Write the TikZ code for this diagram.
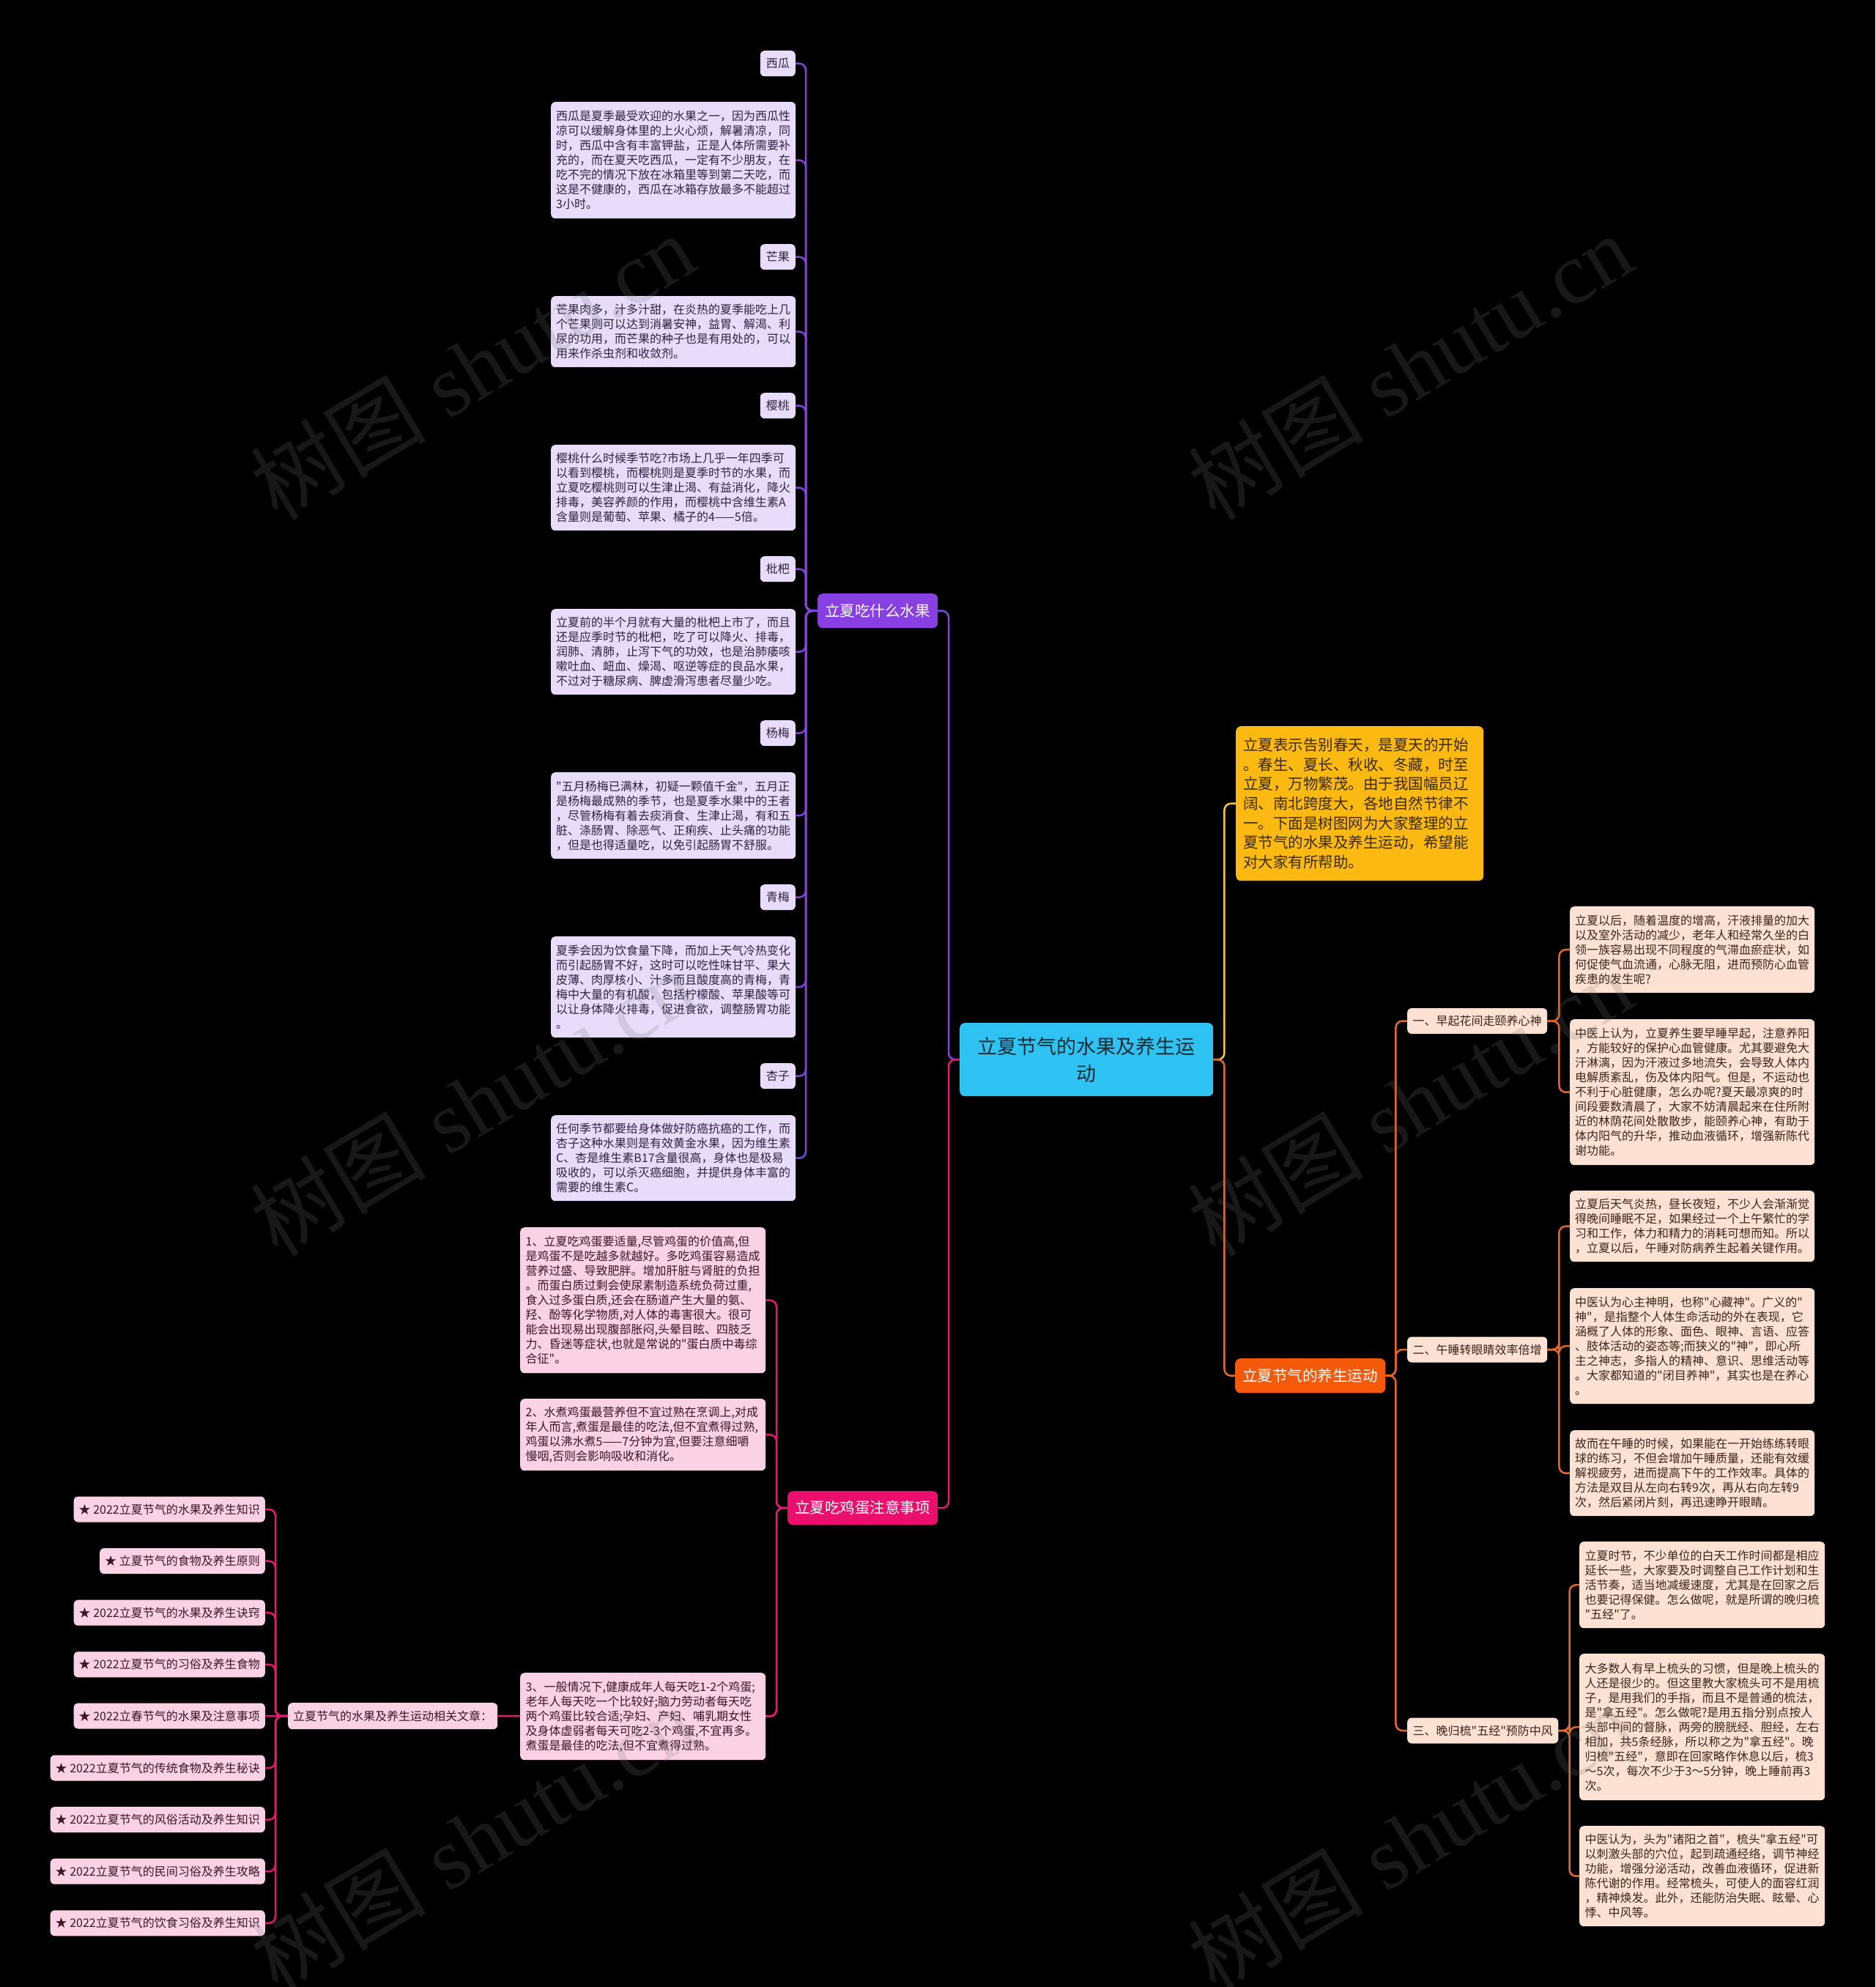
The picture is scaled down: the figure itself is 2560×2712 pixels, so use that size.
\documentclass[tikz,border=0pt]{standalone}
\usepackage{fontspec}
\newfontfamily\cjk{Noto Sans CJK SC}[Ligatures=TeXOff]
\newfontfamily\wmserif{Liberation Serif}
\setlength\parindent{0pt}
\pgfdeclarelayer{back}\pgfdeclarelayer{bg}\pgfdeclarelayer{front}
\pgfsetlayers{back,bg,main,front}
\definecolor{cyanc}{HTML}{2FC3F3}
\definecolor{purmain}{HTML}{8940E3}
\definecolor{pinkmain}{HTML}{EC0E6C}
\definecolor{orgmain}{HTML}{F55A0B}
\definecolor{yelmain}{HTML}{FBB912}
\definecolor{lavfill}{HTML}{E7DDFA}
\definecolor{pinkfill}{HTML}{FBD2E4}
\definecolor{peachfill}{HTML}{FDE2D3}
\definecolor{lavtext}{HTML}{2D2340}
\definecolor{pinktext}{HTML}{3A1628}
\definecolor{peachtext}{HTML}{3A2418}
\definecolor{centertext}{HTML}{1C2B36}
\definecolor{introtext}{HTML}{3D2A05}
\definecolor{purline}{HTML}{8046DC}
\definecolor{pinkline}{HTML}{E01A6C}
\definecolor{orgline}{HTML}{E3682F}
\definecolor{yelline}{HTML}{F5C242}
\definecolor{wmgray}{HTML}{787878}
\tikzset{
  sm/.style={font=\cjk\fontsize{16}{20}\selectfont},
  tb/.style={sm, rounded corners=6pt, inner xsep=7pt, inner ysep=0pt, anchor=north west, align=left},
  lavbox/.style={tb, fill=lavfill, text=lavtext},
  pinkbox/.style={tb, fill=pinkfill, text=pinktext},
  peachbox/.style={tb, fill=peachfill, text=peachtext},
  lbl/.style={sm, rounded corners=6pt, inner xsep=8pt, inner ysep=0pt, minimum height=35pt, anchor=north east, fill=lavfill, text=lavtext},
  art/.style={sm, rounded corners=6pt, inner xsep=7pt, inner ysep=0pt, minimum height=35pt, anchor=east, fill=pinkfill, text=pinktext},
  sub/.style={sm, rounded corners=6pt, inner xsep=7.5pt, inner ysep=0pt, minimum height=35pt, anchor=west, fill=peachfill, text=peachtext},
  mainbox/.style={font=\cjk\fontsize{20.5}{26}\selectfont, rounded corners=7pt, inner sep=0pt, anchor=north west, align=center, text=white},
  conn/.style={line width=2.5pt, rounded corners=9pt},
  pl/.style={conn, draw=purline},
  kl/.style={conn, draw=pinkline},
  ol/.style={conn, draw=orgline},
  yl/.style={conn, draw=yelline},
  wm/.style={rotate=31, text=wmgray, opacity=0.2, font=\wmserif\fontsize{120}{120}\selectfont}
}
\begin{document}
\begin{tikzpicture}[x=1pt,y=-1pt]
\begin{pgfonlayer}{back}
\fill[black] (0,0) rectangle (2560,2712);
\end{pgfonlayer}
\useasboundingbox (0,0) rectangle (2560,2712);

% ---------- centre and main branches ----------
\node[mainbox, fill=cyanc, text=centertext, minimum width=346pt, minimum height=100pt, text width=320pt, font=\cjk\fontsize{27}{37}\selectfont] (center) at (1310,1396) {立夏节气的水果及养生运\\动};
\node[mainbox, fill=purmain, minimum width=164pt, minimum height=47pt] (fruit) at (1116,810) {立夏吃什么水果};
\node[mainbox, fill=pinkmain, minimum width=205pt, minimum height=46pt] (egg) at (1075,2035) {立夏吃鸡蛋注意事项};
\node[mainbox, fill=orgmain, minimum width=205pt, minimum height=47pt] (ysyd) at (1686,1854) {立夏节气的养生运动};
\node[mainbox, fill=yelmain, text=introtext, minimum width=338pt, minimum height=211pt, inner xsep=10pt, text width=318pt, align=left, font=\cjk\fontsize{20.5}{26.7}\selectfont] (intro) at (1687,991) {立夏表示告别春天，是夏天的开始\\。春生、夏长、秋收、冬藏，时至\\立夏，万物繁茂。由于我国幅员辽\\阔、南北跨度大，各地自然节律不\\一。下面是树图网为大家整理的立\\夏节气的水果及养生运动，希望能\\对大家有所帮助。};

% ---------- fruit branch ----------
\node[lbl] (xg1) at (1086,69) {西瓜};
\node[lavbox, text width=320pt, minimum height=159pt] (xg2) at (752,139) {西瓜是夏季最受欢迎的水果之一，因为西瓜性\\凉可以缓解身体里的上火心烦，解暑清凉，同\\时，西瓜中含有丰富钾盐，正是人体所需要补\\充的，而在夏天吃西瓜，一定有不少朋友，在\\吃不完的情况下放在冰箱里等到第二天吃，而\\这是不健康的，西瓜在冰箱存放最多不能超过\\3小时。};
\node[lbl] (mg1) at (1086,333) {芒果};
\node[lavbox, text width=320pt, minimum height=97pt] (mg2) at (752,404) {芒果肉多，汁多汁甜，在炎热的夏季能吃上几\\个芒果则可以达到消暑安神，益胃、解渴、利\\尿的功用，而芒果的种子也是有用处的，可以\\用来作杀虫剂和收敛剂。};
\node[lbl] (yt1) at (1086,536) {樱桃};
\node[lavbox, text width=320pt, minimum height=117pt] (yt2) at (752,607) {樱桃什么时候季节吃?市场上几乎一年四季可\\以看到樱桃，而樱桃则是夏季时节的水果，而\\立夏吃樱桃则可以生津止渴、有益消化，降火\\排毒，美容养颜的作用，而樱桃中含维生素A\\含量则是葡萄、苹果、橘子的4——5倍。};
\node[lbl] (pp1) at (1086,759) {枇杷};
\node[lavbox, text width=320pt, minimum height=117pt] (pp2) at (752,831) {立夏前的半个月就有大量的枇杷上市了，而且\\还是应季时节的枇杷，吃了可以降火、排毒，\\润肺、清肺，止泻下气的功效，也是治肺痿咳\\嗽吐血、衄血、燥渴、呕逆等症的良品水果，\\不过对于糖尿病、脾虚滑泻患者尽量少吃。};
\node[lbl] (ym1) at (1086,983) {杨梅};
\node[lavbox, text width=320pt, minimum height=118pt] (ym2) at (752,1054) {"五月杨梅已满林，初疑一颗值千金"，五月正\\是杨梅最成熟的季节，也是夏季水果中的王者\\，尽管杨梅有着去痰消食、生津止渴，有和五\\脏、涤肠胃、除恶气、正痢疾、止头痛的功能\\，但是也得适量吃，以免引起肠胃不舒服。};
\node[lbl] (qm1) at (1086,1207) {青梅};
\node[lavbox, text width=320pt, minimum height=138pt] (qm2) at (752,1278) {夏季会因为饮食量下降，而加上天气冷热变化\\而引起肠胃不好，这时可以吃性味甘平、果大\\皮薄、肉厚核小、汁多而且酸度高的青梅，青\\梅中大量的有机酸，包括柠檬酸、苹果酸等可\\以让身体降火排毒，促进食欲，调整肠胃功能\\。};
\node[lbl] (xz1) at (1086,1451) {杏子};
\node[lavbox, text width=320pt, minimum height=117pt] (xz2) at (752,1522) {任何季节都要给身体做好防癌抗癌的工作，而\\杏子这种水果则是有效黄金水果，因为维生素\\C、杏是维生素B17含量很高，身体也是极易\\吸收的，可以杀灭癌细胞，并提供身体丰富的\\需要的维生素C。};

% ---------- egg branch ----------
\node[pinkbox, text width=320pt, inner xsep=7.5pt, minimum height=199pt] (eg1) at (710,1675) {1、立夏吃鸡蛋要适量,尽管鸡蛋的价值高,但\\是鸡蛋不是吃越多就越好。多吃鸡蛋容易造成\\营养过盛、导致肥胖。增加肝脏与肾脏的负担\\。而蛋白质过剩会使尿素制造系统负荷过重,\\食入过多蛋白质,还会在肠道产生大量的氨、\\羟、酚等化学物质,对人体的毒害很大。很可\\能会出现易出现腹部胀闷,头晕目眩、四肢乏\\力、昏迷等症状,也就是常说的"蛋白质中毒综\\合征"。};
\node[pinkbox, text width=320pt, inner xsep=7.5pt, minimum height=98pt] (eg2) at (710,1909) {2、水煮鸡蛋最营养但不宜过熟在烹调上,对成\\年人而言,煮蛋是最佳的吃法,但不宜煮得过熟,\\鸡蛋以沸水煮5——7分钟为宜,但要注意细嚼\\慢咽,否则会影响吸收和消化。};
\node[pinkbox, text width=320pt, inner xsep=7.5pt, minimum height=119pt] (eg3) at (710,2283) {3、一般情况下,健康成年人每天吃1-2个鸡蛋;\\老年人每天吃一个比较好;脑力劳动者每天吃\\两个鸡蛋比较合适;孕妇、产妇、哺乳期女性\\及身体虚弱者每天可吃2-3个鸡蛋,不宜再多。\\煮蛋是最佳的吃法,但不宜煮得过熟。};
\node[pinkbox, minimum width=286pt, minimum height=36pt, align=center] (rel) at (393,2324) {立夏节气的水果及养生运动相关文章：};
\node[art] (a1) at (362,2060) {★ 2022立夏节气的水果及养生知识};
\node[art] (a2) at (362,2130.6) {★ 立夏节气的食物及养生原则};
\node[art] (a3) at (362,2201.2) {★ 2022立夏节气的水果及养生诀窍};
\node[art] (a4) at (362,2271.8) {★ 2022立夏节气的习俗及养生食物};
\node[art] (a5) at (362,2342) {★ 2022立春节气的水果及注意事项};
\node[art] (a6) at (362,2413) {★ 2022立夏节气的传统食物及养生秘诀};
\node[art] (a7) at (362,2483.6) {★ 2022立夏节气的风俗活动及养生知识};
\node[art] (a8) at (362,2554.2) {★ 2022立夏节气的民间习俗及养生攻略};
\node[art] (a9) at (362,2624.8) {★ 2022立夏节气的饮食习俗及养生知识};

% ---------- health branch ----------
\node[sub] (s1) at (1921,1393.5) {一、早起花间走颐养心神};
\node[sub] (s2) at (1921,1842) {二、午睡转眼睛效率倍增};
\node[sub, minimum width=205pt] (s3) at (1921,2362) {三、晚归梳"五经"预防中风};

\node[peachbox, text width=320pt, minimum height=118pt] (r1a) at (2143,1237) {立夏以后，随着温度的增高，汗液排量的加大\\以及室外活动的减少，老年人和经常久坐的白\\领一族容易出现不同程度的气滞血瘀症状，如\\何促使气血流通，心脉无阻，进而预防心血管\\疾患的发生呢?};
\node[peachbox, text width=320pt, minimum height=199pt] (r1b) at (2143,1391) {中医上认为，立夏养生要早睡早起，注意养阳\\，方能较好的保护心血管健康。尤其要避免大\\汗淋漓，因为汗液过多地流失，会导致人体内\\电解质紊乱，伤及体内阳气。但是，不运动也\\不利于心脏健康，怎么办呢?夏天最凉爽的时\\间段要数清晨了，大家不妨清晨起来在住所附\\近的林荫花间处散散步，能颐养心神，有助于\\体内阳气的升华，推动血液循环，增强新陈代\\谢功能。};
\node[peachbox, text width=320pt, minimum height=97pt] (r2a) at (2143,1625) {立夏后天气炎热，昼长夜短，不少人会渐渐觉\\得晚间睡眠不足，如果经过一个上午繁忙的学\\习和工作，体力和精力的消耗可想而知。所以\\，立夏以后，午睡对防病养生起着关键作用。};
\node[peachbox, text width=320pt, minimum height=158pt] (r2b) at (2143,1758) {中医认为心主神明，也称"心藏神"。广义的"\\神"，是指整个人体生命活动的外在表现，它\\涵概了人体的形象、面色、眼神、言语、应答\\、肢体活动的姿态等;而狭义的"神"，即心所\\主之神志，多指人的精神、意识、思维活动等\\。大家都知道的"闭目养神"，其实也是在养心\\。};
\node[peachbox, text width=320pt, minimum height=117pt] (r2c) at (2143,1952) {故而在午睡的时候，如果能在一开始练练转眼\\球的练习，不但会增加午睡质量，还能有效缓\\解视疲劳，进而提高下午的工作效率。具体的\\方法是双目从左向右转9次，再从右向左转9\\次，然后紧闭片刻，再迅速睁开眼睛。};
\node[peachbox, text width=320pt, inner xsep=7.5pt, minimum height=118pt] (r3a) at (2156,2104) {立夏时节，不少单位的白天工作时间都是相应\\延长一些，大家要及时调整自己工作计划和生\\活节奏，适当地减缓速度，尤其是在回家之后\\也要记得保健。怎么做呢，就是所谓的晚归梳\\"五经"了。};
\node[peachbox, text width=320pt, inner xsep=7.5pt, minimum height=200pt] (r3b) at (2156,2257) {大多数人有早上梳头的习惯，但是晚上梳头的\\人还是很少的。但这里教大家梳头可不是用梳\\子，是用我们的手指，而且不是普通的梳法，\\是"拿五经"。怎么做呢?是用五指分别点按人\\头部中间的督脉，两旁的膀胱经、胆经，左右\\相加，共5条经脉，所以称之为"拿五经"。晚\\归梳"五经"，意即在回家略作休息以后，梳3\\～5次，每次不少于3～5分钟，晚上睡前再3\\次。};
\node[peachbox, text width=320pt, inner xsep=7.5pt, minimum height=137pt] (r3c) at (2156,2492) {中医认为，头为"诸阳之首"，梳头"拿五经"可\\以刺激头部的穴位，起到疏通经络，调节神经\\功能，增强分泌活动，改善血液循环，促进新\\陈代谢的作用。经常梳头，可使人的面容红润\\，精神焕发。此外，还能防治失眠、眩晕、心\\悸、中风等。};

% ---------- connectors ----------
\begin{pgfonlayer}{bg}
\draw[pl] (center.west) -- ++(-15,0) |- (fruit.east);
\draw[kl] (center.west) -- ++(-15,0) |- (egg.east);
\draw[yl] (center.east) -- ++(15,0) |- (intro.west);
\draw[ol] (center.east) -- ++(15,0) |- (ysyd.west);
\foreach \c in {xg1,xg2,mg1,mg2,yt1,yt2,pp1,pp2,ym1,ym2,qm1,qm2,xz1,xz2}
  \draw[pl] (fruit.west) -- ++(-16,0) |- (\c.east);
\foreach \c in {eg1,eg2,eg3,rel}
  \draw[kl] (egg.west) -- ++(-15,0) |- (\c.east);
\foreach \c in {a1,a2,a3,a4,a6,a7,a8,a9}
  \draw[kl] (rel.west) -- ++(-17,0) |- (\c.east);
\draw[kl] (rel.west) -- (a5.east);
\foreach \c in {s1,s2,s3}
  \draw[ol] (ysyd.east) -- ++(14,0) |- (\c.west);
\foreach \c in {r1a,r1b}
  \draw[ol] (s1.east) -- ++(16,0) |- (\c.west);
\foreach \c in {r2a,r2b,r2c}
  \draw[ol] (s2.east) -- ++(16,0) |- (\c.west);
\foreach \c in {r3a,r3b,r3c}
  \draw[ol] (s3.east) -- ++(15,0) |- (\c.west);
\end{pgfonlayer}

% ---------- watermarks ----------
\begin{pgfonlayer}{front}
\foreach \p [count=\i] in {(645,500),(1925,500),(645,1505),(1925,1505),(645,2510),(1925,2510)}
  \node[wm] (wm\i) at \p {{\cjk 树图} shutu.cn};
\end{pgfonlayer}
\end{tikzpicture}
\end{document}
